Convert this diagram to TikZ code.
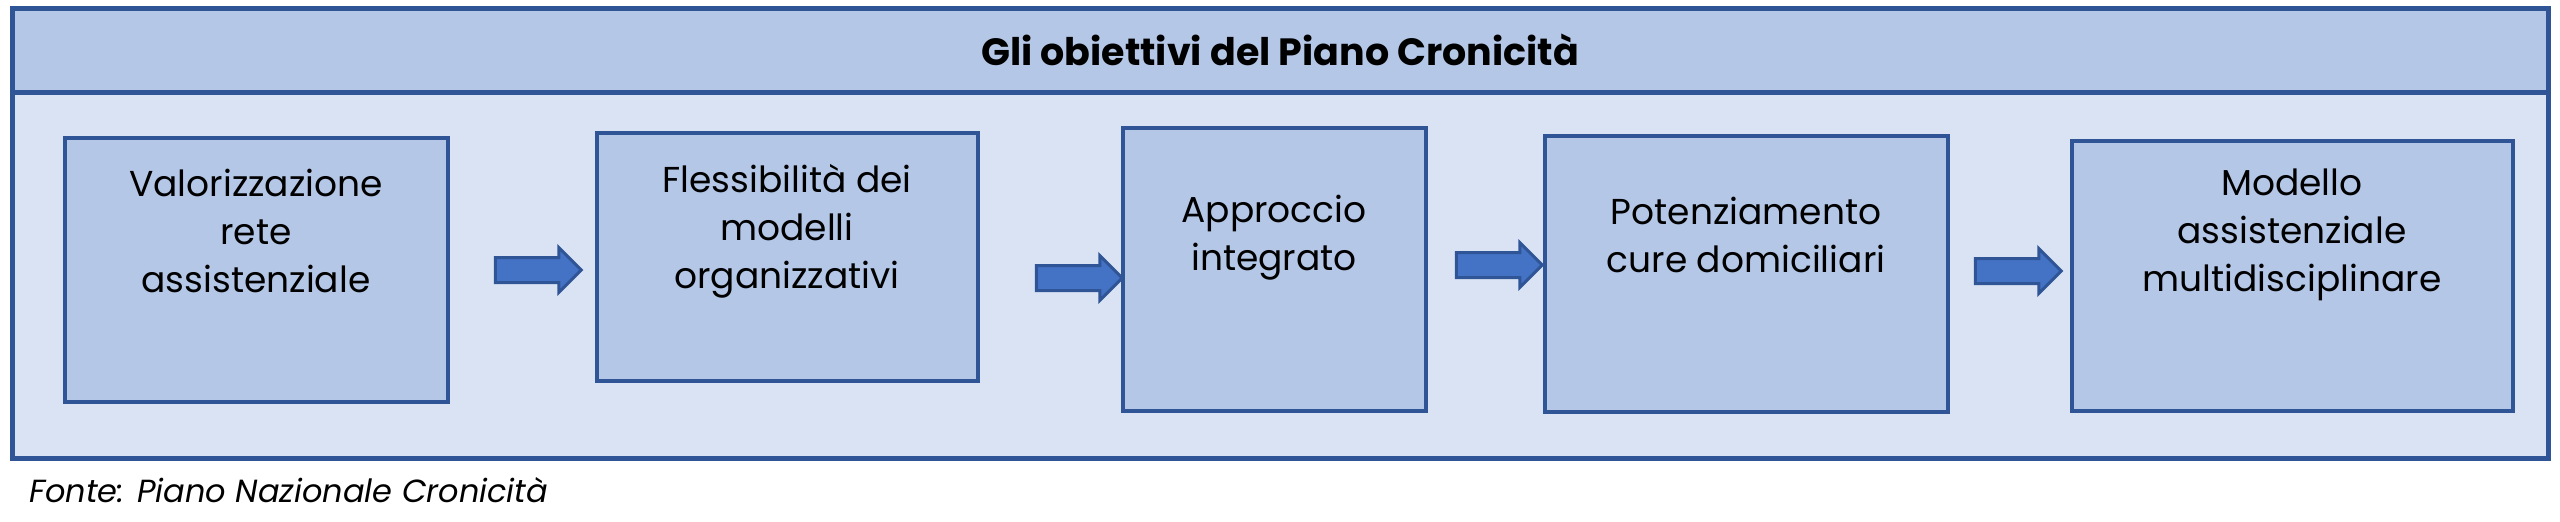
\documentclass[tikz,border=0pt]{standalone}
\usepackage{fontspec}
\setmainfont{Poppins}
\usetikzlibrary{shapes.arrows}
\definecolor{bord}{HTML}{2F5597}
\definecolor{light}{HTML}{DAE3F3}
\definecolor{mid}{HTML}{B4C7E7}
\definecolor{arr}{HTML}{4472C4}
\begin{document}
\begin{tikzpicture}[x=0.5pt,y=-0.5pt,
  box/.style={draw=bord,fill=mid,line width=2pt},
  lbl/.style={align=center,font=\fontsize{18}{24}\selectfont,text=black},
  ar/.style={single arrow,draw=bord,fill=arr,line width=1.5pt,inner xsep=0pt,inner ysep=5.5pt,single arrow head extend=5pt,minimum height=43pt,text width=0pt,text height=0pt,text depth=0pt}]
\useasboundingbox (0,0) rectangle (2560,521);
\draw[draw=bord,fill=light,line width=2.5pt] (12,8) rectangle (2548,458);
\draw[draw=bord,fill=mid,line width=2.5pt] (12,8) rectangle (2548,92);
\node[font=\fontsize{19}{23}\selectfont\bfseries] (title) at (1280,50) {Gli obiettivi del Piano Cronicità};
\draw[box] (65,138) rectangle (448,402); \node (b1) at (256,270) {};
\node[lbl,anchor=north] at (256,162) {Valorizzazione\\rete\\assistenziale};
\draw[box] (597,133) rectangle (978,381); \node (b2) at (787,257) {};
\node[lbl,anchor=north] at (787,157) {Flessibilità dei\\modelli\\organizzativi};
\draw[box] (1123,128) rectangle (1426,411); \node (b3) at (1274,270) {};
\node[lbl,anchor=north] at (1274,188) {Approccio\\integrato};
\draw[box] (1545,136) rectangle (1948,412); \node (b4) at (1746,274) {};
\node[lbl,anchor=north] at (1746,190) {Potenziamento\\cure domiciliari};
\draw[box] (2072,141) rectangle (2513,411); \node (b5) at (2292,276) {};
\node[lbl,anchor=north] at (2292,162) {Modello\\assistenziale\\multidisciplinare};
\node[ar] (a1) at (532,270) {};
\node[ar] (a2) at (1073,278) {};
\node[ar] (a3) at (1493,265) {};
\node[ar] (a4) at (2012,271) {};
\node[font=\fontsize{16}{20}\selectfont\itshape,anchor=west] (src) at (22,490) {Fonte: Piano Nazionale Cronicità};
\end{tikzpicture}
\end{document}
